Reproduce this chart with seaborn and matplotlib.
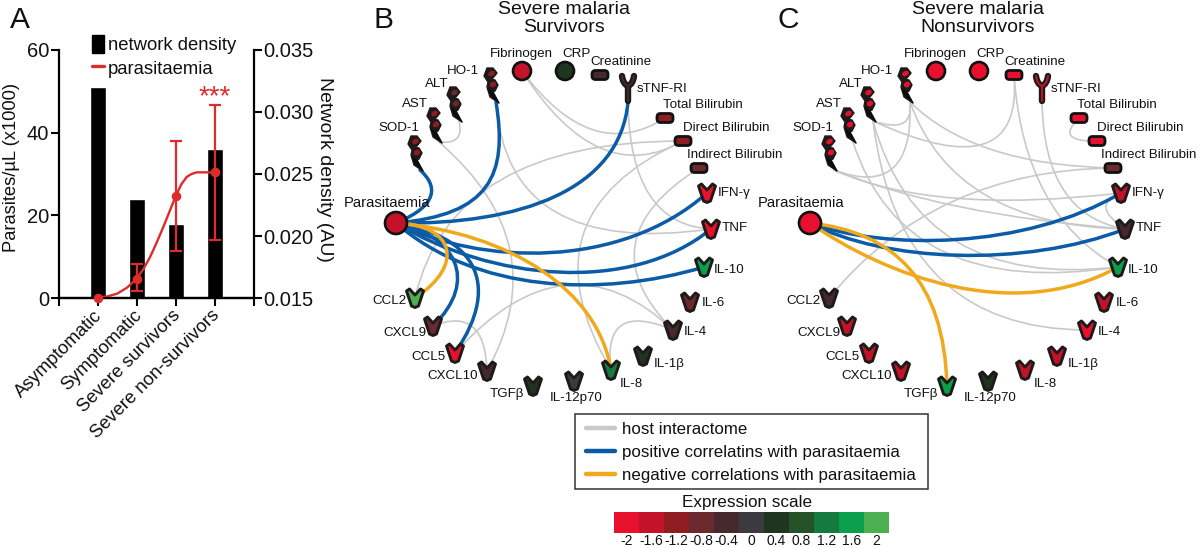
import numpy as np
import pandas as pd
import matplotlib
matplotlib.use("Agg")
import matplotlib.pyplot as plt
from matplotlib.path import Path
from matplotlib.patches import PathPatch, Circle, Ellipse, FancyBboxPatch, Patch, Rectangle
from matplotlib.lines import Line2D
from matplotlib.colors import ListedColormap
from matplotlib.transforms import ScaledTranslation
import seaborn as sns

# ---------- Panel A data ----------
groups = ["Asymptomatic", "Symptomatic", "Severe survivors", "Severe non-survivors"]
group_pos = [1, 2, 3, 4]
density = [0.0320, 0.0230, 0.0210, 0.0270]
parasites = [0.0, 4.7, 24.7, 30.4]
par_low = [0.0, 1.8, 11.4, 14.0]
par_high = [0.0, 8.2, 37.9, 46.8]
curve_x = [1, 1.25, 1.5, 1.75, 2, 2.17, 2.34, 2.5, 2.68, 2.85, 3, 3.14, 3.28, 3.4, 3.53, 3.75, 4]
curve_y = [0, 0.4, 1.05, 2.5, 4.7, 7, 9.9, 13.2, 17.2, 21.2, 24.7, 27.5, 29.3, 30.0, 30.4, 30.4, 30.4]

# ---------- Expression scale ----------
scale_vals = [-2, -1.6, -1.2, -0.8, -0.4, 0, 0.4, 0.8, 1.2, 1.6, 2]
scale_labels = ["-2", "-1.6", "-1.2", "-0.8", "-0.4", "0", "0.4", "0.8", "1.2", "1.6", "2"]
scale_colors = ["#E8112D", "#C4122A", "#8E1C20", "#6A2A2E", "#45292C", "#3B3A3E",
                "#20351F", "#255228", "#157A3F", "#0A9F4A", "#4CAF50"]

# ---------- Network nodes ----------
node_names = ["Parasitaemia", "SOD-1", "AST", "ALT", "HO-1", "Fibrinogen", "CRP", "Creatinine",
              "sTNF-RI", "Total Bilirubin", "Direct Bilirubin", "Indirect Bilirubin", "IFN-γ", "TNF",
              "IL-10", "IL-6", "IL-4", "IL-1β", "IL-8", "IL-12p70", "TGFβ", "CXCL10", "CCL5",
              "CXCL9", "CCL2"]
node_kind = ["o", "e", "e", "e", "e", "o", "o", "r", "y", "r", "r", "r", "v", "v",
             "v", "v", "v", "v", "v", "v", "v", "v", "v", "v", "v"]
node_x = [396, 414, 433, 453, 490, 522, 565, 600, 628, 665, 683, 699, 707, 711,
          704, 690, 673, 643, 611, 574, 533, 487, 455, 433, 415]
node_y = [223, 153, 125, 104, 85, 71, 71, 75, 89, 118, 141, 168, 193, 229,
          267, 302, 330, 356, 370, 381, 386, 371, 353, 326, 298]
label_x = [387, 399, 415, 437, 463, 521, 577, 621, 637, 703, 726, 735, 718, 722,
           714, 702, 684, 654, 620, 576, 507, 453, 429, 405, 389]
label_y = [203, 128, 104, 84, 71, 54, 54, 62, 89, 105, 128, 155, 193, 228,
           270, 303, 332, 364, 384, 398, 394, 376, 357, 333, 301]
label_ha = ["center"] * 8 + ["left"] + ["center"] * 3 + ["left"] * 6 + ["left", "center", "center",
                                                                       "center", "center", "center", "center"]
expr_b = [-1.6, -1.2, -1.2, -0.8, -1.2, -1.6, 0.4, -0.4, -0.4, -1.2, -1.2, -0.8, -2, -2,
          1.6, -0.8, -0.4, 0.4, 1.2, 0, 0.4, -0.4, -2, -0.8, 2]
expr_c = [-2, -2, -2, -2, -2, -2, -2, -2, -1.6, -2, -2, -0.8, -1.6, -0.4,
          1.6, -1.6, -2, -1.6, -1.6, 0.4, 1.6, -1.6, -1.6, -1.6, -0.4]

# ---------- Network edges: (node, node, control x, control y) ----------
grey_b = [("AST", "ALT", 465, 145), ("AST", "CXCL10", 557, 244), ("Fibrinogen", "Total Bilirubin", 592, 165),
          ("Fibrinogen", "Direct Bilirubin", 598, 190), ("HO-1", "TNF", 507, 258),
          ("Direct Bilirubin", "CCL2", 451, 141), ("Direct Bilirubin", "IL-8", 519, 215),
          ("Indirect Bilirubin", "IL-4", 584, 241), ("sTNF-RI", "TNF", 630, 225),
          ("CCL5", "IL-4", 566, 229), ("CXCL9", "CXCL10", 485, 305), ("IL-8", "IL-4", 602, 300)]
grey_c = [("ALT", "HO-1", 500, 135), ("SOD-1", "HO-1", 500, 200), ("ALT", "Creatinine", 610, 190),
          ("HO-1", "Indirect Bilirubin", 560, 165), ("Creatinine", "IL-10", 610, 215),
          ("sTNF-RI", "TNF", 630, 215), ("SOD-1", "TNF", 530, 215), ("SOD-1", "IFN-γ", 520, 215),
          ("Indirect Bilirubin", "CCL2", 520, 170), ("AST", "IL-10", 490, 300), ("ALT", "IL-10", 505, 290),
          ("ALT", "IL-4", 485, 330), ("IFN-γ", "TNF", 675, 205), ("Total Bilirubin", "Direct Bilirubin", 640, 142),
          ("HO-1", "TNF", 540, 225)]
# parasitaemia edges: (target, c1x, c1y, c2x, c2y)
pos_b = [("SOD-1", 440, 205, 437, 185), ("HO-1", 490, 215, 508, 175), ("sTNF-RI", 520, 225, 620, 190),
         ("IFN-γ", 480, 265, 620, 270), ("TNF", 490, 280, 630, 295), ("IL-10", 475, 292, 600, 298),
         ("CCL5", 470, 235, 505, 280), ("CXCL9", 455, 235, 480, 280)]
neg_b = [("CCL2", 455, 225, 465, 265), ("IL-8", 510, 233, 598, 290)]
pos_c = [("IFN-γ", 470, 250, 610, 250), ("TNF", 470, 262, 610, 268)]
neg_c = [("IL-10", 470, 275, 600, 325), ("TGFβ", 480, 232, 530, 280)]

legend_labels = ["host interactome", "positive correlatins with parasitaemia",
                 "negative correlations with parasitaemia"]

# ---------- Style ----------
sns.set_theme(style="ticks")
plt.rcParams["font.family"] = ["Liberation Sans", "DejaVu Sans"]
RED = "#E02B2B"
GREY, BLUE, ORANGE = "#C9C9C9", "#0B5BA6", "#F0A81C"
OUT = "#1E1A1A"
W, H = 1200, 548
fig = plt.figure(figsize=(W / 100, H / 100), dpi=100)

# ---------- Panel A ----------
L, R, T, B = 58.6, 254, 50, 298
ax = fig.add_axes([L / W, 1 - B / H, (R - L) / W, (B - T) / H])
tw = ax.twinx()
sns.barplot(data=pd.DataFrame({"x": group_pos, "d": density}), x="x", y="d", native_scale=True,
            color="black", saturation=1, width=0.41, ax=tw)
sns.lineplot(data=pd.DataFrame({"x": curve_x, "y": curve_y}), x="x", y="y", sort=False,
             color=RED, lw=1.7, ax=ax, errorbar=None)
sns.scatterplot(data=pd.DataFrame({"x": group_pos, "y": parasites}), x="x", y="y",
                color=RED, s=48, linewidth=0, ax=ax, zorder=5, clip_on=False)
yerr = [np.array(parasites) - np.array(par_low), np.array(par_high) - np.array(parasites)]
ax.errorbar(group_pos[1:], parasites[1:], yerr=[yerr[0][1:], yerr[1][1:]], fmt="none",
            ecolor=RED, elinewidth=1.6, capsize=4.3, capthick=1.6, zorder=4)
ax.set_zorder(tw.get_zorder() + 1)
ax.patch.set_visible(False)
ax.set_xlim(0, 5)
ax.set_ylim(0, 60)
tw.set_ylim(0.015, 0.035)
ax.set_yticks([0, 20, 40, 60])
tw.set_yticks([0.015, 0.02, 0.025, 0.03, 0.035])
tw.set_yticklabels(["0.015", "0.020", "0.025", "0.030", "0.035"])
ax.set_xticks([0, 1, 2, 3, 4, 5])
ax.set_xticklabels([""] + groups + [""], rotation=45, ha="right", rotation_mode="anchor", fontsize=13.2)
for a in (ax, tw):
    a.tick_params(length=5.5, width=1.5, labelsize=14.5, pad=1.5, color="black", labelcolor="#111111")
    for s in a.spines.values():
        s.set_linewidth(1.6)
        s.set_color("black")
    a.spines["top"].set_visible(False)
ax.spines["right"].set_visible(False)
tw.spines["left"].set_visible(False)
ax.tick_params(axis="x", labelsize=13.2, pad=1)
for lab in ax.get_xticklabels():
    lab.set_transform(lab.get_transform() + ScaledTranslation(-4 / 100, 0, fig.dpi_scale_trans))
tw.set_xlabel("")
ax.set_xlabel("")
ax.set_ylabel("Parasites/µL (x1000)", fontsize=13.2, va="center", color="#111111")
ax.yaxis.set_label_coords((12 - L) / (R - L), 0.527)
tw.set_ylabel("Network density (AU)", fontsize=14, rotation=270, va="center", color="#111111")
tw.yaxis.set_label_coords((325 - L) / (R - L), 0.52)
ax.text(4, 48.7, "***", color=RED, fontsize=20, ha="center", va="center", clip_on=False)
ax.legend(handles=[Patch(color="black", label="network density"),
                   Line2D([0], [0], color=RED, lw=2.4, label="parasitaemia")],
          loc="upper left", bbox_to_anchor=(91.5 / W, 1 - 35 / H), bbox_transform=fig.transFigure,
          frameon=False, fontsize=13.3, handlelength=0.7, handleheight=1.15, handletextpad=0.2,
          labelspacing=0.2, borderpad=0, borderaxespad=0, labelcolor="#111111")

# ---------- Network overlay in picture pixels ----------
net = fig.add_axes([0, 0, 1, 1], facecolor="none")
net.set_xlim(0, W)
net.set_ylim(H, 0)
net.axis("off")
cmap = dict(zip(scale_vals, scale_colors))
idx = {n: i for i, n in enumerate(node_names)}
OFFSET = 414


def anchor(name):
    i = idx[name]
    k = node_kind[i]
    dx, dy = {"e": (6, 17), "y": (0, 13)}.get(k, (0, 0))
    return node_x[i] + dx, node_y[i] + dy


def stroke(verts, codes, color, lw, z, off=0, **kw):
    v = [(x + off, y) for x, y in verts]
    net.add_patch(PathPatch(Path(v, codes), fc="none", ec=color, lw=lw, zorder=z, capstyle="round", **kw))


def quad(a, b, cx, cy, off):
    stroke([anchor(a), (cx, cy), anchor(b)], [Path.MOVETO, Path.CURVE3, Path.CURVE3], GREY, 1.2, 2, off)


def cubic(target, c1x, c1y, c2x, c2y, color, off):
    p = anchor("Parasitaemia")
    stroke([p, (c1x, c1y), (c2x, c2y), anchor(target)],
           [Path.MOVETO, Path.CURVE4, Path.CURVE4, Path.CURVE4], color, 2.5, 3, off)


def draw_v(x, y, col):
    pts = [(-8.5, -7), (-5.5, -9), (0, -3), (5.5, -9), (8.5, -7), (3.5, 8), (0, 9.5), (-3.5, 8), (-8.5, -7)]
    net.add_patch(plt.Polygon([(x + a, y + b) for a, b in pts], closed=True, fc=col, ec=OUT, lw=2.1,
                              joinstyle="round", zorder=6))


def draw_enzyme(x, y, col):
    body = [(-3, -17), (3, -17), (7, -12), (3, -7), (0, -6), (5, -5), (8, 0), (5, 6), (3, 7),
            (9, 18), (0, 12), (-3, 2), (-2, -3), (-6, -9)]
    net.add_patch(plt.Polygon([(x + a, y + b) for a, b in body], closed=True, fc=OUT, ec=OUT, lw=1,
                              joinstyle="round", zorder=6))
    tail = [(-2, 4), (1, 11), (9, 18), (3, 7)]
    net.add_patch(plt.Polygon([(x + a, y + b) for a, b in tail], closed=True, fc="#0D0D0D", ec="#0D0D0D",
                              lw=0.6, joinstyle="round", zorder=6))
    net.add_patch(Ellipse((x + 1.5, y - 11.5), 7, 5, angle=-30, fc=col, ec="none", zorder=7))
    net.add_patch(Ellipse((x + 3, y - 0.5), 6.5, 5.5, angle=-30, fc=col, ec="none", zorder=7))


def draw_y(x, y, col):
    v = [(x - 6, y - 13), (x - 5, y - 5), (x, y - 3), (x + 5, y - 5), (x + 6, y - 13)]
    c = [Path.MOVETO, Path.CURVE3, Path.CURVE3, Path.CURVE3, Path.CURVE3]
    stem = [(x, y - 3), (x, y + 12)]
    for (w, colr, z) in [(4.6, OUT, 6), (1.4, col, 7)]:
        net.add_patch(PathPatch(Path(v, c), fc="none", ec=colr, lw=w, zorder=z, capstyle="round"))
        net.plot(*zip(*stem), color=colr, lw=w, zorder=z, solid_capstyle="round")


def draw_nodes(expr, off):
    for i, name in enumerate(node_names):
        x, y = node_x[i] + off, node_y[i]
        col = cmap[expr[i]]
        k = node_kind[i]
        if k == "o":
            net.add_patch(Circle((x, y), 11 if name == "Parasitaemia" else 9, fc=col, ec="#111111",
                                 lw=1.9, zorder=6))
        elif k == "r":
            net.add_patch(FancyBboxPatch((x - 6.5, y - 3), 13, 6, boxstyle="round,pad=1.5,rounding_size=3.5",
                                         fc=col, ec="#111111", lw=2, zorder=6))
        elif k == "v":
            draw_v(x, y, col)
        elif k == "e":
            draw_enzyme(x, y, col)
        else:
            draw_y(x, y, col)
        net.text(label_x[i] + off, label_y[i], name, ha=label_ha[i], va="center",
                 fontsize=10.6 if name == "Parasitaemia" else 9.6, color="#111111", zorder=8)


for (grey, pos, neg, expr, off) in [(grey_b, pos_b, neg_b, expr_b, 0), (grey_c, pos_c, neg_c, expr_c, OFFSET)]:
    for e in grey:
        quad(*e, off)
    for e in pos:
        cubic(*e, BLUE, off)
    for e in neg:
        cubic(*e, ORANGE, off)
    draw_nodes(expr, off)

# titles
for x, sub in [(564, "Survivors"), (978, "Nonsurvivors")]:
    net.text(x, 10, "Severe malaria", ha="center", va="center", fontsize=14, color="#111111")
    net.text(x, 28, sub, ha="center", va="center", fontsize=14, color="#111111")
for x, s in [(20, "A"), (383, "B"), (788, "C")]:
    net.text(x, 20, s, ha="center", va="center", fontsize=21.5, color="#111111")

# legend
net.add_patch(Rectangle((575, 414), 353, 75, fc="white", ec="#333333", lw=1.1, zorder=1))
net.legend(handles=[Line2D([0], [0], color=c, lw=3.2, label=l)
                    for c, l in zip([GREY, BLUE, ORANGE], legend_labels)],
           loc="upper left", bbox_to_anchor=(586, 422), bbox_transform=net.transData,
           fontsize=12.2, frameon=False, handlelength=1.72, handletextpad=0.42,
           labelspacing=0.48, borderpad=0, borderaxespad=0, labelcolor="#111111")

# expression scale
net.text(747, 502, "Expression scale", ha="center", va="center", fontsize=12.3, color="#111111")
cax = fig.add_axes([614 / W, 1 - 533 / H, 275 / W, 21 / H])
sns.heatmap(np.array([scale_vals]), cmap=ListedColormap(scale_colors), vmin=-2.2, vmax=2.2, cbar=False,
            xticklabels=scale_labels, yticklabels=False, ax=cax, linewidths=0)
cax.tick_params(axis="x", length=0, labelsize=10, pad=1, labelrotation=0, labelcolor="#111111")

fig.savefig("out.png", dpi=100)
